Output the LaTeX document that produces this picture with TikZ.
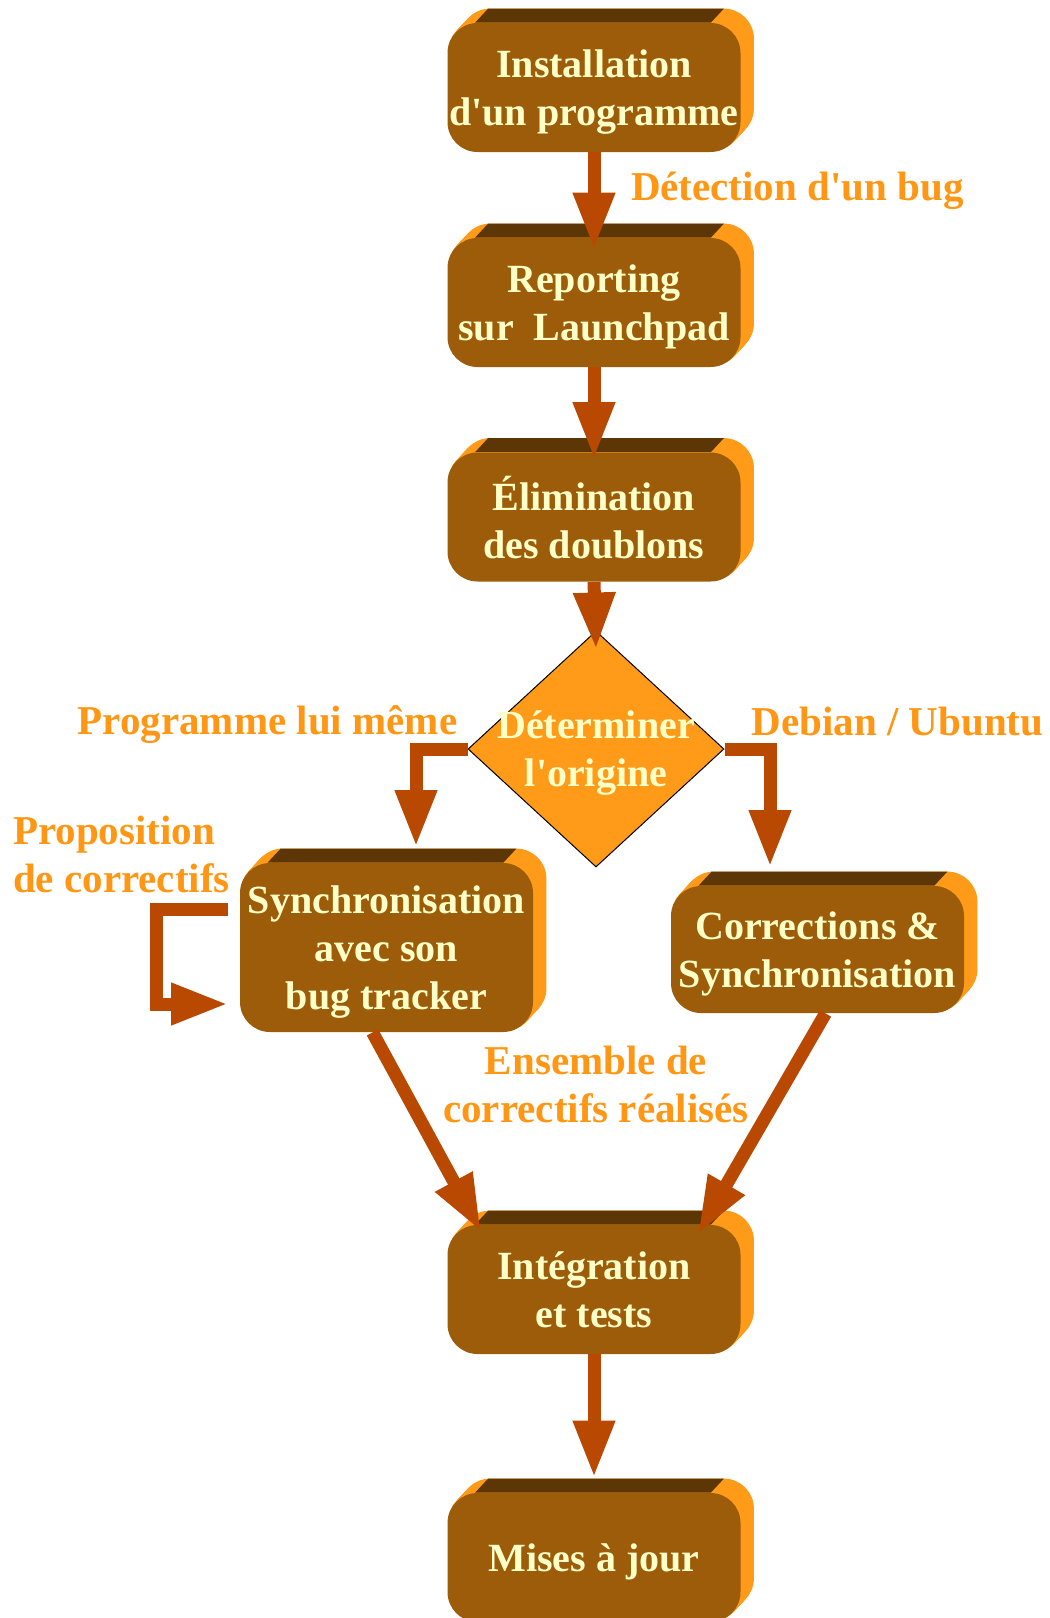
\documentclass[tikz,border=0pt]{standalone}
\usepackage{fontspec}
\setmainfont{Liberation Serif}
\usetikzlibrary{shapes.geometric, arrows.meta, backgrounds}
\definecolor{stepbrown}{RGB}{157, 92, 10}
\definecolor{stepdark}{RGB}{92, 54, 5}
\definecolor{steporange}{RGB}{255, 155, 25}
\definecolor{steptext}{RGB}{255, 255, 200}
\definecolor{flowrust}{RGB}{185, 72, 0}
\definecolor{noteorange}{RGB}{255, 150, 20}

\begin{document}
\begin{tikzpicture}[x=0.5pt, y=-0.5pt,
    stepbox/.style={fill=stepbrown, rounded corners=15pt, minimum width=146.5pt, minimum height=64.5pt,
        inner sep=0pt, align=center, text=steptext, font=\bfseries\fontsize{20}{24}\selectfont,
        text depth=0pt},
    decision/.style={diamond, fill=steporange, draw=black, line width=0.5pt, inner sep=0pt,
        minimum width=128pt, minimum height=118pt},
    steplabel/.style={align=center, text=steptext, font=\bfseries\fontsize{20}{24}\selectfont,
        text depth=0pt},
    note/.style={text=noteorange, font=\bfseries\fontsize{20.5}{24}\selectfont},
    flow/.style={draw=flowrust, line width=6.5pt, -{Triangle[width=19.5pt, length=28.5pt]}}]
    \useasboundingbox (0,0) rectangle (1050,1618);

    \node[stepbox] (install) at (594, 87.5) {Installation\\d\textquotesingle un programme};
    \node[stepbox] (report) at (594, 302.5) {Reporting\\sur\ \ Launchpad};
    \node[stepbox] (dedup) at (594, 517) {Élimination\\des doublons};
    \node[decision] (origin) at (596, 749) {};
    \node[steplabel] at (origin) {Déterminer\\l\textquotesingle origine};
    \node[stepbox, minimum height=84.5pt, text depth=-7pt] (sync) at (386.5, 947.5) {Synchronisation\\avec son\\bug tracker};
    \node[stepbox, minimum height=63.5pt] (fix) at (817.5, 949.5) {Corrections \&\\Synchronisation};
    \node[stepbox] (integ) at (594, 1289.5) {Intégration\\et tests};
    \node[stepbox] (update) at (594, 1557.5) {Mises à jour};

    \begin{pgfonlayer}{background}
        \foreach \n in {install, report, dedup, sync, fix, integ, update}{
            \foreach \t in {0.1, 0.2, ..., 1.0}
                \fill[steporange, rounded corners=15pt]
                    ([shift={({\t*6.5pt},{\t*7pt})}]\n.south west) rectangle ([shift={({\t*6.5pt},{\t*7pt})}]\n.north east);
            \fill[stepdark] ([xshift=14pt]\n.north west) -- ([xshift=-15pt]\n.north east)
                -- ([shift={(-8.5pt,7pt)}]\n.north east) -- ([shift={(20.5pt,7pt)}]\n.north west) -- cycle;
        }
    \end{pgfonlayer}

    \coordinate (syncin) at (416, 847);
    \coordinate (fixin) at (770, 867);
    \coordinate (loopout) at (228, 909);
    \coordinate (loopin) at (228, 1004);

    \draw[flow] (install.south) -- ([yshift=-6pt]report.north);
    \draw[flow] (report.south) -- ([yshift=-3.5pt]dedup.north);
    \draw[flow] (dedup.south) -- ([yshift=-9.5pt]origin.north);
    \draw[flow] (origin.west) -| (syncin);
    \draw[flow] (origin.east) -| (fixin);
    \draw[flow] (loopout) -- ++(-72, 0) |- (loopin);
    \draw[flow] ([xshift=-7pt]sync.south) -- ([shift={(-56.5pt,-3.5pt)}]integ.north);
    \draw[flow] ([xshift=4pt]fix.south) -- ([shift={(52pt,-4.5pt)}]integ.north);
    \draw[flow] (integ.south) -- ([yshift=7.5pt]update.north);

    \node[note, anchor=west] at (624, 191) {Détection d\textquotesingle un bug};
    \node[note] at (267.5, 725) {Programme lui même};
    \node[note] at (897.5, 722) {Debian / Ubuntu};
    \node[note, anchor=west, align=left] at (6, 854) {Proposition\\de correctifs};
    \node[note, align=center] at (596, 1084) {Ensemble de\\correctifs réalisés};
\end{tikzpicture}
\end{document}
